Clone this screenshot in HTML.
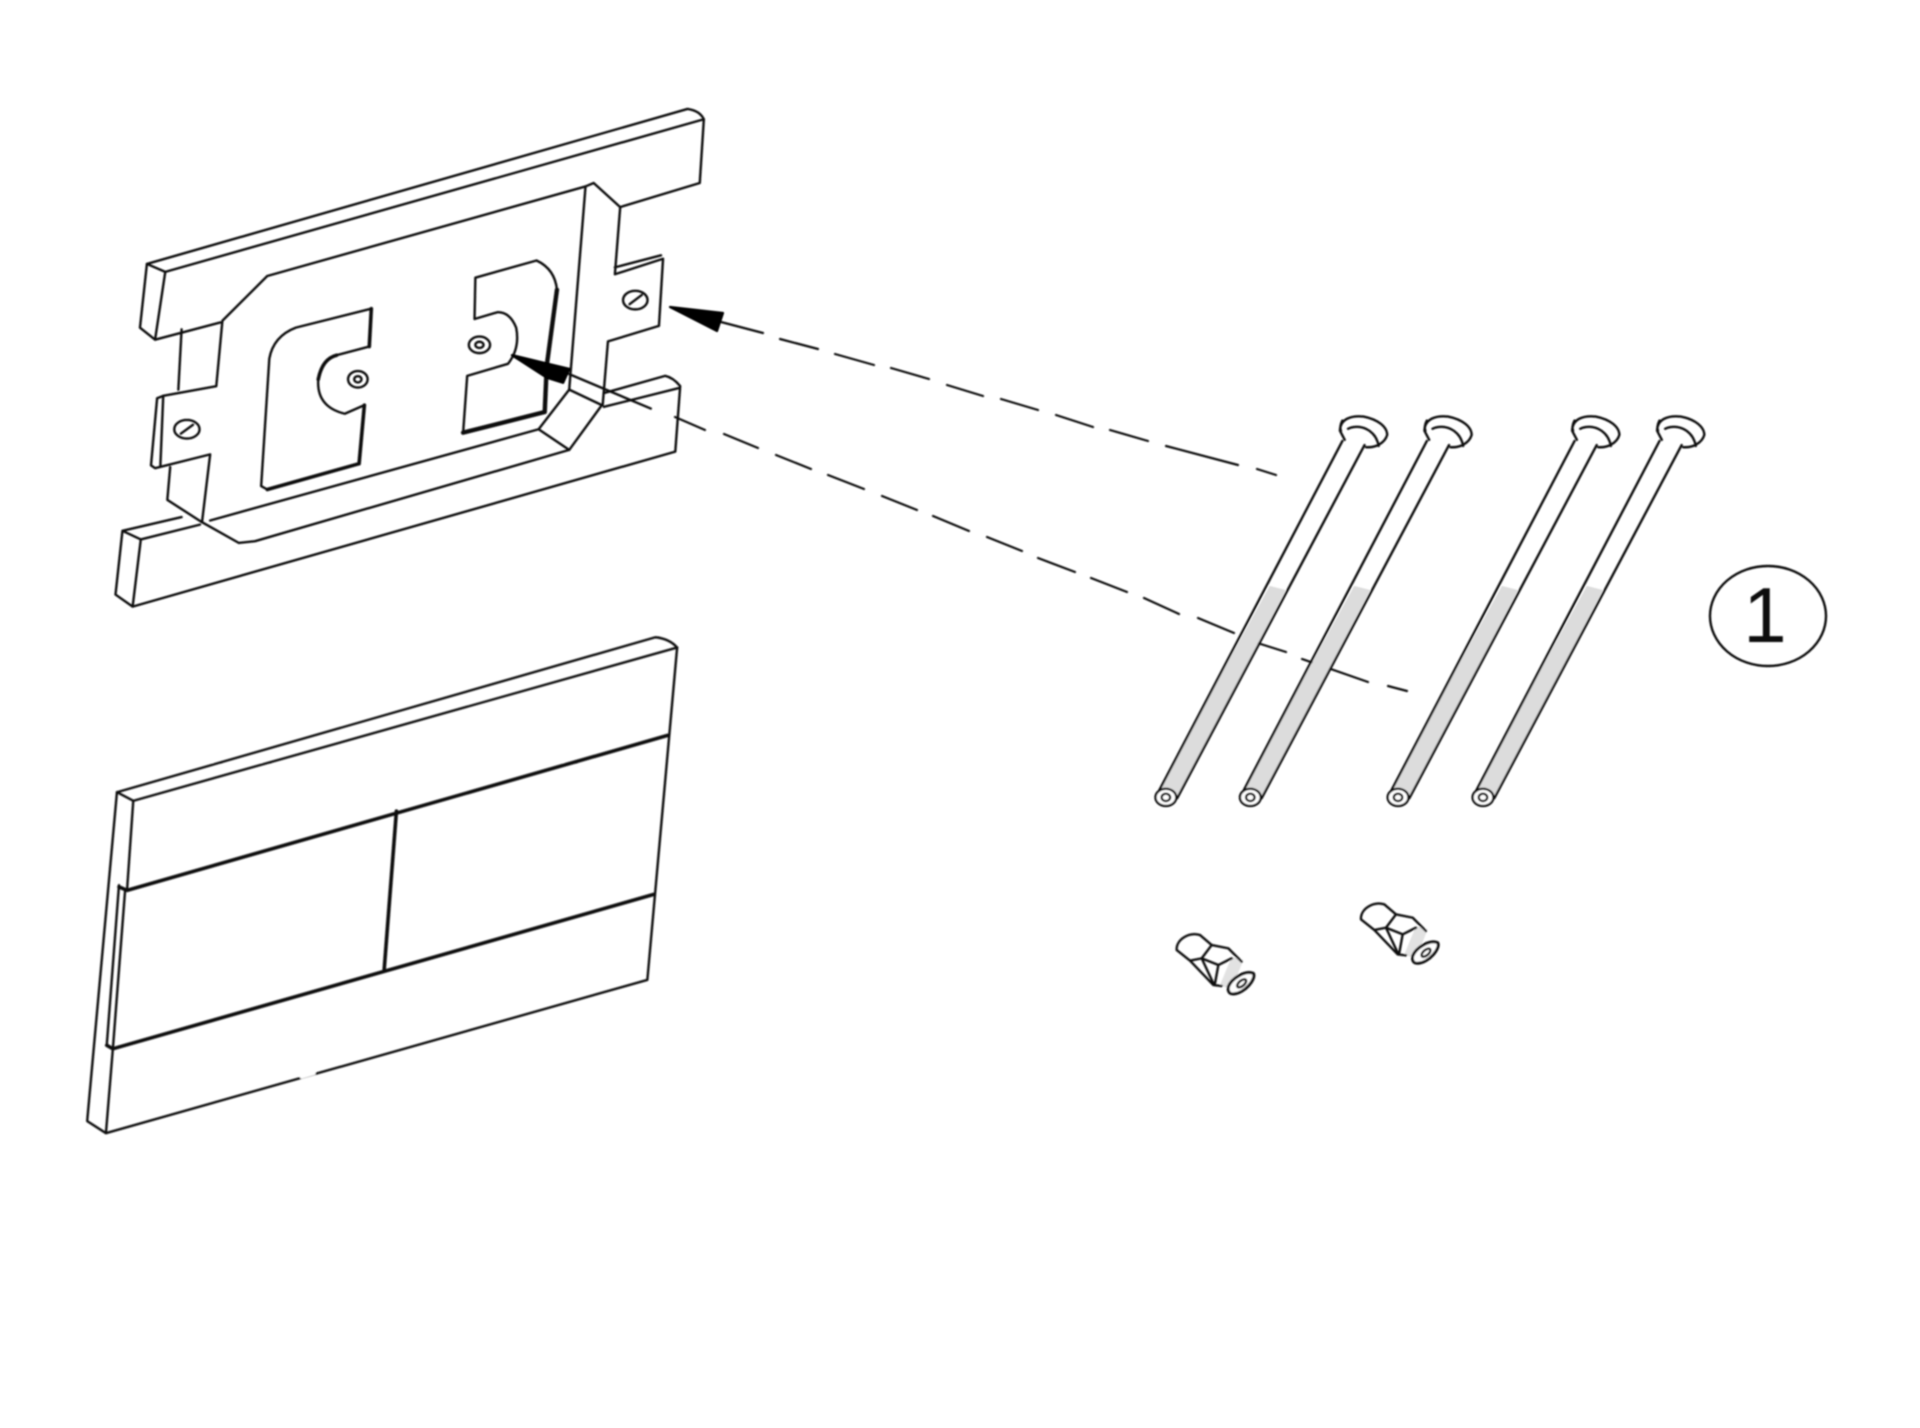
<!DOCTYPE html>
<html><head><meta charset="utf-8"><style>
html,body{margin:0;padding:0;background:#fff;width:1920px;height:1428px;overflow:hidden}
svg{display:block}
.l *,#bolt *,#fit *{vector-effect:non-scaling-stroke}
.l{fill:none;stroke:#111;stroke-width:2.4;stroke-linejoin:round;stroke-linecap:round}
</style></head><body>
<svg width="1920" height="1428" viewBox="0 0 1920 1428" xmlns="http://www.w3.org/2000/svg">
<defs>
<filter id="b" x="-5%" y="-5%" width="110%" height="110%"><feGaussianBlur stdDeviation="0.8"/></filter>
<g id="bolt">
<path d="M296,480 L330,490 L100,1000 L55,990 Z" fill="#dcdcdc" stroke="none"/>
<path d="M450,125 L60,985 M497,135 L100,1000"/>
<ellipse cx="76" cy="998" rx="22" ry="21" fill="#fff"/>
<ellipse cx="76" cy="998" rx="9" ry="9"/>
<path d="M445,100 C445,70 470,62 495,65 C525,72 545,90 545,110 C540,130 520,142 500,140 M445,100 L455,122 M450,75 C445,85 445,95 447,100 M462,95 C485,82 520,95 527,137"/>
</g>
<g id="fit">
<path d="M180,285 L215,300 L250,210 L215,200 Z" fill="#e2e2e2" stroke="none"/>
<path d="M50,180 C48,150 85,125 120,135 L155,165 L205,175 L245,215 M50,180 L90,212 L125,205 M90,212 L160,285 L185,288"/>
<path d="M155,165 L125,205 L160,280 M125,205 L175,225 L215,205 M175,225 L165,280"/>
<path d="M205,290 C215,265 255,240 280,250 C290,265 255,310 220,312 C205,312 203,300 205,290 Z" fill="#fff" stroke-width="3"/>
<ellipse cx="245" cy="280" rx="16" ry="8" transform="rotate(-40 245 280)"/>
</g>
</defs>
<rect width="1920" height="1428" fill="#fff"/>
<g filter="url(#b)">

<!-- bracket -->
<g class="l" transform="translate(100,90) scale(0.408,0.3444)">
<path d="M115,505 L1440,55 Q1470,60 1480,85 L160,528 Z"/>
<path d="M1480,85 L1470,270 L1275,340 L1210,270 L1190,280 L410,540 L300,670 L285,860 L155,888 L140,895 L125,1090 L135,1098 L270,1058 L250,1255"/>
<path d="M115,505 L98,690 L135,725 L160,528 M135,725 L295,675 M200,695 L192,870 M155,888 L148,1090"/>
<path d="M172,1095 L165,1190 L250,1255 L340,1315 L380,1310 L1150,1045 L1230,915 L1150,870 L1075,985 L1150,1045 M1075,985 L270,1250"/>
<path d="M55,1280 L200,1240 M100,1305 L245,1262 M55,1280 L38,1465 L80,1500 L100,1305 M55,1280 L100,1305 M80,1500 L1410,1050 L1422,860 Q1405,835 1385,830 L1235,880 M1420,865 L1235,920"/>
<path d="M1190,280 L1150,870 M1275,340 L1262,535 L1380,490 L1370,685 L1245,730 L1232,915 M1262,515 L1375,480"/>
<path d="M1150,825 L1350,925"/>
<ellipse cx="1312" cy="610" rx="30" ry="27"/><path d="M1298,622 L1328,595"/>
<ellipse cx="213" cy="985" rx="31" ry="27"/><path d="M198,998 L228,972"/>
<ellipse cx="930" cy="740" rx="26" ry="24"/><ellipse cx="930" cy="740" rx="10" ry="9"/>
<ellipse cx="632" cy="840" rx="24" ry="24"/><ellipse cx="632" cy="840" rx="9" ry="9"/>
<path d="M665,635 L480,690 Q425,715 415,780 L395,1150 L410,1160 L635,1085 L648,915 L600,940 Q530,920 535,840 Q545,780 580,770 L660,745 Z"/>
<path d="M665,635 L660,745 M648,915 L635,1085 M410,1160 L635,1085 M535,840 Q545,780 580,770" style="stroke-width:3.6"/>
<path d="M920,545 L1070,495 Q1115,520 1120,580 L1095,800 L1090,935 L890,995 L900,830 L1000,795 Q1030,750 1020,690 Q1005,645 975,645 L918,665 Z"/>
<path d="M1120,580 L1095,800 L1090,935 L890,995" style="stroke-width:4.4"/>
<path d="M1010,770 L1150,810 L1135,850 L1095,835 Z" fill="#000" stroke="#000"/>
</g>

<!-- dashed lines -->
<g class="l" style="stroke-width:2.2">
<path d="M721,322 L763,333 M780,339 L818,349 M835,354 L874,365 M891,368 L929,379 M947,385 L983,396 M1001,399 L1038,410 M1056,415 L1093,427 M1110,430 L1148,441 M1166,446 L1238,465 M1257,469 L1276,475"/>
<path d="M675,417 L705,430 M724,434 L758,448 M776,455 L811,469 M828,475 L864,489 M882,496 L917,510 M933,516 L969,531 M987,537 L1022,551 M1038,558 L1075,572 M1091,578 L1127,592 M1144,598 L1179,614 M1198,618 L1234,633 M1248,640 L1286,652 M1302,659 L1368,682 M1388,686 L1407,691"/>
<path d="M670,307 L723,313 L717,331 Z" fill="#000" stroke="#000"/>
</g>

<!-- panel -->
<g class="l" transform="translate(70,620) scale(0.408,0.3444)">
<path d="M115,500 L1435,50 Q1470,55 1488,80 L155,525 Z"/>
<path d="M1488,80 L1415,1045 L88,1490 L42,1455 L115,500"/>
<path d="M155,525 L140,780 M135,785 L105,1245 L88,1490 M120,770 L90,1235"/>
<path d="M120,775 L140,785 L1465,335 M90,1235 L105,1245 L1430,797 M800,555 L770,1015" style="stroke-width:3.6"/>
<path d="M568,1326 L597,1316" style="stroke:#fff;stroke-width:4"/>
</g>

<!-- bolts -->
<g class="l" transform="translate(1130,390) scale(0.4719,0.4082)">
<use href="#bolt"/>
<use href="#bolt" transform="translate(179,0)"/>
<use href="#bolt" transform="translate(492,0)"/>
<use href="#bolt" transform="translate(672,0)"/>
</g>

<!-- fittings -->
<g class="l" transform="translate(1160,890) scale(0.3333)">
<use href="#fit"/>
<use href="#fit" transform="translate(553,-92)"/>
</g>

<!-- callout -->
<ellipse cx="1768" cy="616" rx="58" ry="50" fill="none" stroke="#111" stroke-width="2.4"/>
<text x="1765" y="642" font-family="'Liberation Sans',sans-serif" font-size="78" fill="#111" text-anchor="middle">1</text>
</g>
</svg>
</body></html>
